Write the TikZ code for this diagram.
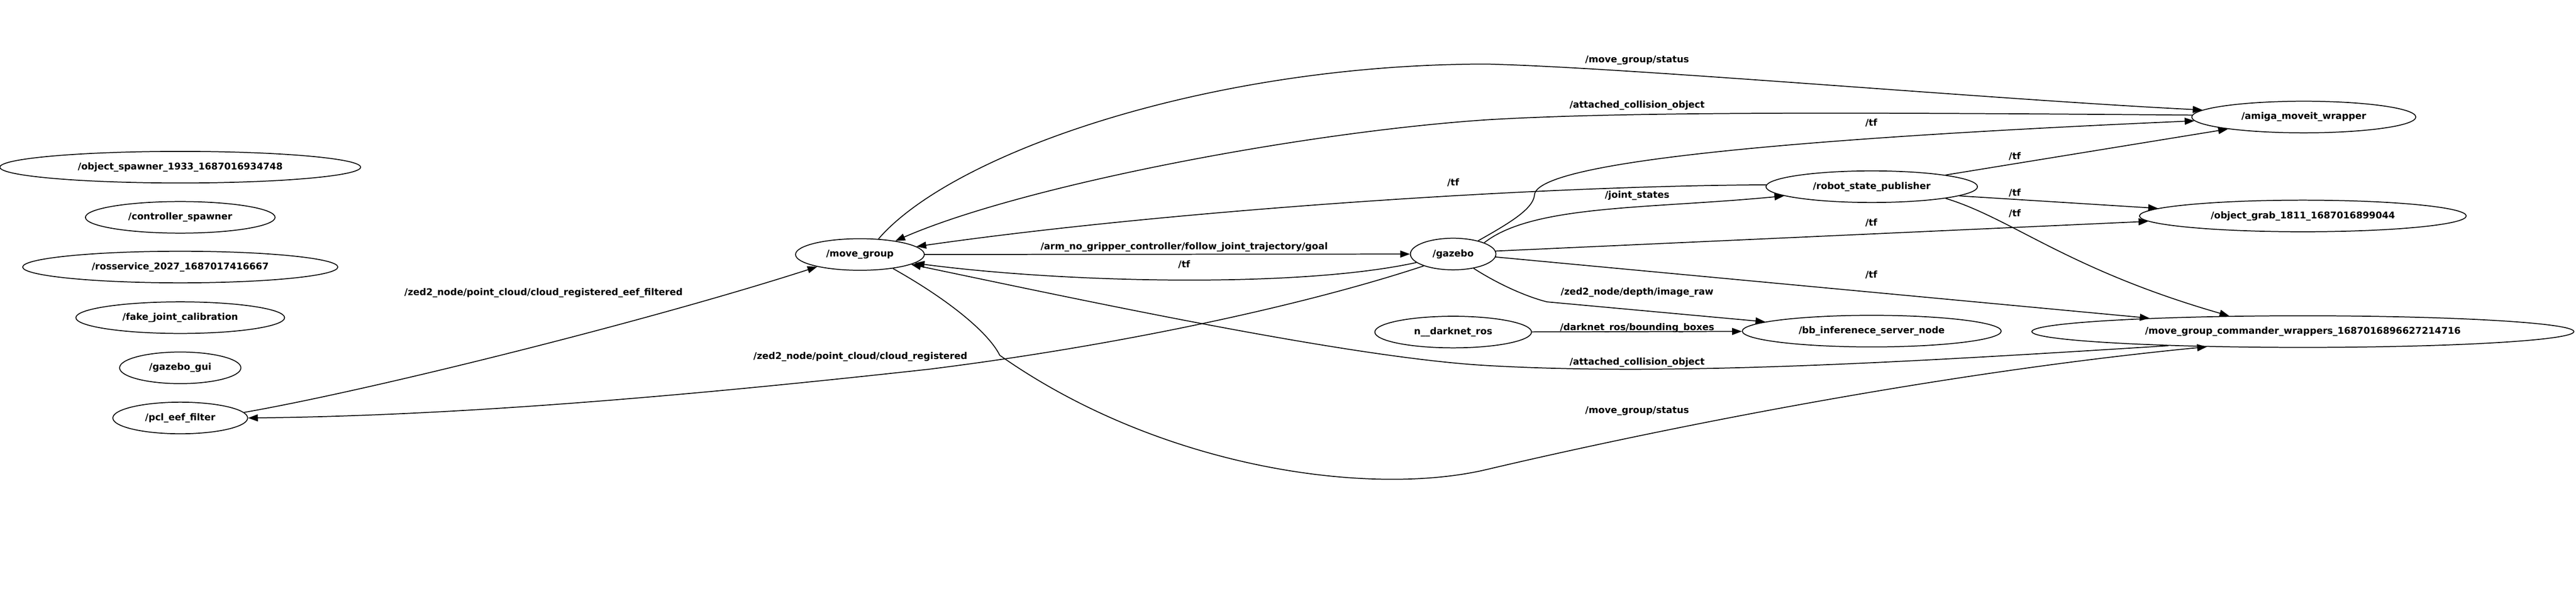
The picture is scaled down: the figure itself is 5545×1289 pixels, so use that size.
\documentclass[tikz,border=0pt]{standalone}
\usepackage{fontspec}
\setmainfont{DejaVu Sans}
\usetikzlibrary{shapes.geometric,arrows.meta}
\tikzset{
	rosnode/.style={draw, ellipse, line width=0.55pt, inner sep=0pt, minimum height=0.68cm, font=\fontsize{5.7pt}{7pt}\selectfont\bfseries},
	topic/.style={inner sep=0pt, font=\fontsize{5.7pt}{7pt}\selectfont\bfseries},
	pub/.style={-{Triangle[length=0.21cm,width=0.15cm]}, line width=0.55pt},
}
\begin{document}
\begin{tikzpicture}[x=0.01cm,y=-0.01cm]
				\useasboundingbox (0,0) rectangle (5545,1289);
				% nodes on their own
				\node[rosnode, minimum width=7.76cm] (ospawn) at (388,360){/object\_spawner\_1933\_1687016934748};
				\node[rosnode, minimum width=4.08cm] (cspawn) at (388,468){/controller\_spawner};
				\node[rosnode, minimum width=6.78cm] (rsrv) at (388,575){/rosservice\_2027\_1687017416667};
				\node[rosnode, minimum width=4.49cm] (fjcal) at (388,684){/fake\_joint\_calibration};
				\node[rosnode, minimum width=2.61cm] (ggui) at (388,792){/gazebo\_gui};
				\node[rosnode, minimum width=2.90cm] (pcl) at (388,900){/pcl\_eef\_filter};
				% main graph
				\node[rosnode, minimum width=2.77cm] (mg) at (1851,548){/move\_group};
				\node[rosnode, minimum width=1.84cm] (gz) at (3128,547){/gazebo};
				\node[rosnode, minimum width=3.37cm] (dn) at (3128,715){n\_\_darknet\_ros};
				\node[rosnode, minimum width=4.55cm] (rsp) at (4029,402){/robot\_state\_publisher};
				\node[rosnode, minimum width=5.57cm] (bbis) at (4029,713){/bb\_inferenece\_server\_node};
				\node[rosnode, minimum width=4.82cm] (amw) at (4959,252){/amiga\_moveit\_wrapper};
				\node[rosnode, minimum width=7.03cm] (ograb) at (4957,465){/object\_grab\_1811\_1687016899044};
				\node[rosnode, minimum width=11.66cm] (mgcw) at (4957,714){/move\_group\_commander\_wrappers\_1687016896627214716};
				% topics
				\node[topic] (t1) at (3524,130){/move\_group/status};
				\node[topic] (t2) at (3524,227){/attached\_collision\_object};
				\node[topic] (t3) at (4028,265){/tf};
				\node[topic] (t4) at (3128,393){/tf};
				\node[topic] (t5) at (4337,337){/tf};
				\node[topic] (t6) at (3524,421){/joint\_states};
				\node[topic] (t7) at (4337,415){/tf};
				\node[topic] (t8) at (4337,460){/tf};
				\node[topic] (t9) at (4028,480){/tf};
				\node[topic] (t10) at (2549,532){/arm\_no\_gripper\_controller/follow\_joint\_trajectory/goal};
				\node[topic] (t11) at (2549,570){/tf};
				\node[topic] (t12) at (4028,592){/tf};
				\node[topic] (t13) at (3524,630){/zed2\_node/depth/image\_raw};
				\node[topic] (t14) at (3524,706){/darknet\_ros/bounding\_boxes};
				\node[topic] (t15) at (3524,780){/attached\_collision\_object};
				\node[topic] (t16) at (3524,885){/move\_group/status};
				\node[topic] (t17) at (1170,631){/zed2\_node/point\_cloud/cloud\_registered\_eef\_filtered};
				\node[topic] (t18) at (1852,768){/zed2\_node/point\_cloud/cloud\_registered};
				% edges
				\draw[pub](mg.40) .. controls (2050,330) and (2600,138) .. (3200,138) .. controls (3500,145) and (4300,215) .. (amw.176);
				\draw[pub](amw.179) .. controls (4000,242) and (3500,240) .. (3200,258) .. controls (2800,285) and (2200,400) .. (mg.21);
				\draw[pub](rsp.179) .. controls (3300,400) and (2500,455) .. (mg.8);
				\draw[pub](mg)--(gz);
				\draw[pub](gz.193) .. controls (2800,620) and (2300,610) .. (mg.351);
				\draw[pub](pcl.5) .. controls (800,840) and (1400,690) .. (mg.196);
				\draw[pub](gz.202) .. controls (2800,660) and (2400,745) .. (2000,795) .. controls (1500,850) and (1000,895) .. (pcl.east);
				\draw[pub](mgcw.186) .. controls (4100,780) and (3600,810) .. (3200,787) .. controls (2900,770) and (2300,640) .. (mg.349);
				\draw[pub](mg.337) .. controls (2050,650) and (2130,720) .. (2152,765) .. controls (2500,1010) and (2950,1070) .. (3200,1011) .. controls (3450,952) and (4100,810) .. (mgcw.189);
				\draw[pub](gz.28) .. controls (3250,480) and (3300,450) .. (3303,420) .. controls (3306,360) and (3700,305) .. (amw.182);
				\draw[pub](gz.20) .. controls (3300,440) and (3550,450) .. (rsp.186);
				\draw[pub](gz.4)--(ograb.182);
				\draw[pub](gz.356)--(mgcw.175);
				\draw[pub](gz.325) .. controls (3230,615) and (3290,640) .. (3330,650)--(bbis.175);
				\draw[pub](dn)--(bbis);
				\draw[pub](rsp.9)--(amw.189);
				\draw[pub](rsp.354)--(ograb.177);
				\draw[pub](rsp.351) .. controls (4330,470) and (4450,580) .. (mgcw.168);
\end{tikzpicture}
\end{document}
